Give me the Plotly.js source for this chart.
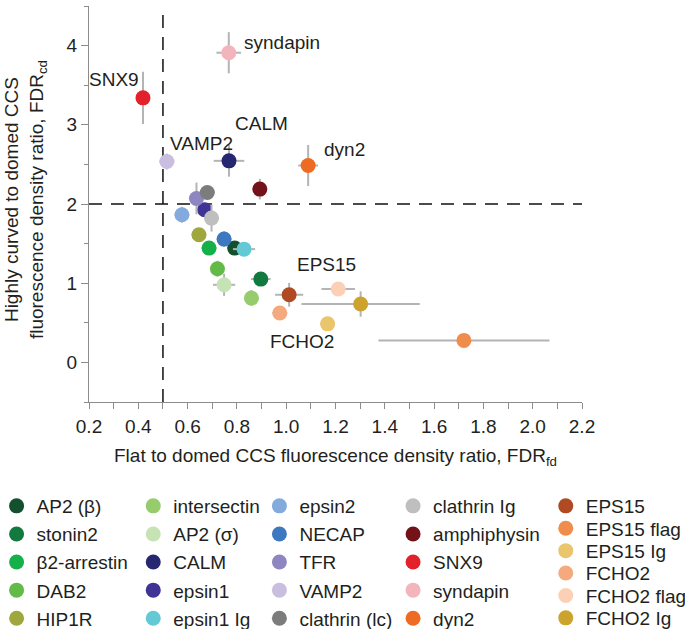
<!DOCTYPE html>
<html>
<head>
<meta charset="utf-8">
<script src="https://cdn.plot.ly/plotly-3.0.1.min.js"></script>
<style>
  html, body { margin: 0; padding: 0; background: #ffffff; }
  #chart { width: 685px; height: 629px; }
</style>
</head>
<body>
<div id="chart"></div>
<script>
// ---------------- data ----------------
const names = [
  "AP2 (β)", "stonin2", "β2-arrestin", "DAB2", "HIP1R",
  "intersectin", "AP2 (σ)", "CALM", "epsin1", "epsin1 Ig",
  "epsin2", "NECAP", "TFR", "VAMP2", "clathrin (lc)",
  "clathrin Ig", "amphiphysin", "SNX9", "syndapin", "dyn2",
  "EPS15", "EPS15 flag", "EPS15 Ig", "FCHO2", "FCHO2 flag", "FCHO2 Ig"
];
// FDR_fd (x) and FDR_cd (y)
const fdrFd = [
  0.791, 0.897, 0.687, 0.721, 0.646,
  0.859, 0.748, 0.768, 0.669, 0.829,
  0.577, 0.748, 0.636, 0.516, 0.680,
  0.697, 0.893, 0.419, 0.767, 1.089,
  1.012, 1.721, 1.168, 0.974, 1.211, 1.302
];
const fdrCd = [
  1.443, 1.052, 1.443, 1.182, 1.612,
  0.812, 0.980, 2.545, 1.927, 1.430,
  1.864, 1.557, 2.070, 2.536, 2.145,
  1.822, 2.188, 3.340, 3.910, 2.486,
  0.854, 0.278, 0.487, 0.623, 0.926, 0.737
];
const errFd = [
  0.030, 0.040, 0.030, 0.030, 0.030,
  0.030, 0.045, 0.062, 0.030, 0.045,
  0.030, 0.030, 0.030, 0.030, 0.030,
  0.030, 0.030, 0.020, 0.050, 0.040,
  0.057, 0.347, 0.030, 0.030, 0.068, 0.240
];
const errCd = [
  0.05, 0.07, 0.05, 0.10, 0.08,
  0.10, 0.14, 0.20, 0.08, 0.05,
  0.10, 0.10, 0.20, 0.10, 0.06,
  0.17, 0.13, 0.33, 0.26, 0.26,
  0.15, 0.06, 0.08, 0.08, 0.08, 0.16
];
const xTickVals = [0.2, 0.4, 0.6, 0.8, 1.0, 1.2, 1.4, 1.6, 1.8, 2.0, 2.2];
const xTickText = ["0.2", "0.4", "0.6", "0.8", "1.0", "1.2", "1.4", "1.6", "1.8", "2.0", "2.2"];
const yTickVals = [0, 1, 2, 3, 4];
const thresholdFd = 0.5;
const thresholdCd = 2;
const labelled = ["syndapin", "SNX9", "VAMP2", "CALM", "dyn2", "EPS15", "FCHO2"];
const xTitle = "Flat to domed CCS fluorescence density ratio, FDR<sub>fd</sub>";
const yTitle = "Highly curved to domed CCS<br>fluorescence density ratio, FDR<sub>cd</sub>";

// ---------------- styles ----------------
const colors = {
  "AP2 (β)": "#12502e", "stonin2": "#127a3e", "β2-arrestin": "#16b04b", "DAB2": "#63bb47", "HIP1R": "#9ea83d",
  "intersectin": "#96cc6c", "AP2 (σ)": "#c5e3b4", "CALM": "#262671", "epsin1": "#3f3496", "epsin1 Ig": "#62c9d5",
  "epsin2": "#82aadd", "NECAP": "#3e78c0", "TFR": "#8d86c1", "VAMP2": "#c9bde0", "clathrin (lc)": "#7c7c7c",
  "clathrin Ig": "#bfbfbf", "amphiphysin": "#74121a", "SNX9": "#e3212a", "syndapin": "#f4b4bb", "dyn2": "#ed6b23",
  "EPS15": "#b04a22", "EPS15 flag": "#f08d4d", "EPS15 Ig": "#eac56c", "FCHO2": "#f4a97e", "FCHO2 flag": "#fbd0b5", "FCHO2 Ig": "#cba32d"
};
// legend column for each entry (column 5 is split in two interleaved legends)
const legendOf = [
  "legend", "legend", "legend", "legend", "legend",
  "legend2", "legend2", "legend2", "legend2", "legend2",
  "legend3", "legend3", "legend3", "legend3", "legend3",
  "legend4", "legend4", "legend4", "legend4", "legend4",
  "legend5", "legend6", "legend5", "legend6", "legend5", "legend6"
];
// label offsets in px relative to the point
const labelStyle = {
  "syndapin": {xanchor: "left",  xshift: 13,  yshift: 10},
  "SNX9":     {xanchor: "right", xshift: -2,  yshift: 18},
  "VAMP2":    {xanchor: "left",  xshift: 1,   yshift: 18},
  "CALM":     {xanchor: "left",  xshift: 4,   yshift: 37},
  "dyn2":     {xanchor: "left",  xshift: 14,  yshift: 16},
  "EPS15":    {xanchor: "left",  xshift: 6,   yshift: 30},
  "FCHO2":    {xanchor: "left",  xshift: -12, yshift: -28}
};

const FONT = "Liberation Sans, Arial, Helvetica, sans-serif";
const FS = 19;
const TXT = "#231f20";
const AXC = "#8c8c8c";
const ERRC = "#b4b4b4";
const W = 685, H = 629;
const M = {l: 89.3, r: 103.3, t: 6, b: 227};
const plotW = W - M.l - M.r, plotH = H - M.t - M.b;

const traces = names.map((n, i) => ({
  type: "scatter",
  mode: "markers",
  name: n,
  x: [fdrFd[i]],
  y: [fdrCd[i]],
  error_x: {type: "data", array: [errFd[i]], color: ERRC, thickness: 2, width: 0},
  error_y: {type: "data", array: [errCd[i]], color: ERRC, thickness: 2, width: 0},
  marker: {size: 15, color: colors[n], line: {width: 0}},
  legend: legendOf[i],
  legendgroup: n,
  showlegend: true,
  hoverinfo: "name+x+y"
}));

const annotations = labelled.map(n => {
  const i = names.indexOf(n);
  const s = labelStyle[n];
  return {
    x: fdrFd[i], y: fdrCd[i], xref: "x", yref: "y",
    text: n, showarrow: false,
    xanchor: s.xanchor, yanchor: "middle",
    xshift: s.xshift, yshift: s.yshift,
    font: {family: FONT, size: FS, color: TXT}
  };
});
// y-axis title (drawn as a rotated annotation for exact placement)
annotations.push({
  xref: "paper", yref: "paper",
  x: (26 - M.l) / plotW, y: (H - M.b - 199.5) / plotH,
  xanchor: "center", yanchor: "middle",
  text: yTitle, textangle: -90, showarrow: false,
  font: {family: FONT, size: FS, color: TXT}
});

function legendBox(xpx, ypx, gap) {
  return {
    xref: "paper", yref: "container",
    x: (xpx - M.l) / plotW, y: 1 - ypx / H,
    xanchor: "left", yanchor: "top",
    orientation: "v",
    bgcolor: "rgba(0,0,0,0)", borderwidth: 0,
    font: {family: FONT, size: FS, color: TXT},
    traceorder: "grouped", tracegroupgap: gap,
    itemwidth: 30, itemsizing: "trace",
    itemclick: false, itemdoubleclick: false
  };
}

const layout = {
  width: W, height: H,
  margin: {l: M.l, r: M.r, t: M.t, b: M.b, autoexpand: false},
  paper_bgcolor: "#ffffff", plot_bgcolor: "#ffffff",
  font: {family: FONT, size: FS, color: TXT},
  showlegend: true,
  xaxis: {
    range: [0.2, 2.2], automargin: false,
    showgrid: false, zeroline: false,
    showline: true, linecolor: AXC, linewidth: 1,
    tickmode: "array", tickvals: xTickVals, ticktext: xTickText,
    ticks: "outside", ticklen: 6, tickcolor: AXC, tickwidth: 1,
    ticklabelstandoff: 1,
    minor: {dtick: 0.1, tick0: 0.2, ticks: "outside", ticklen: 6, tickcolor: AXC, tickwidth: 1, showgrid: false},
    tickfont: {family: FONT, size: FS, color: TXT},
    title: {text: xTitle, font: {family: FONT, size: FS, color: TXT}, standoff: 12}
  },
  yaxis: {
    range: [-0.5, 4.5], automargin: false,
    showgrid: false, zeroline: false,
    showline: true, linecolor: AXC, linewidth: 1,
    tickmode: "array", tickvals: yTickVals,
    ticks: "outside", ticklen: 7, tickcolor: AXC, tickwidth: 1,
    minor: {dtick: 0.5, tick0: 0, ticks: "outside", ticklen: 4, tickcolor: AXC, tickwidth: 1, showgrid: false},
    tickfont: {family: FONT, size: FS, color: TXT}
  },
  shapes: [
    {type: "line", xref: "x", yref: "y", x0: thresholdFd, x1: thresholdFd, y0: -0.5, y1: 4.5,
     line: {color: "#111111", width: 1.5, dash: "13px,9px"}, layer: "below"},
    {type: "line", xref: "x", yref: "y", x0: 0.2, x1: 2.2, y0: thresholdCd, y1: thresholdCd,
     line: {color: "#111111", width: 1.5, dash: "13px,9px"}, layer: "below"}
  ],
  annotations: annotations,
  legend:  legendBox(-3, 487, 0.4),
  legend2: legendBox(133.5, 487, 0.4),
  legend3: legendBox(259.5, 487, 0.4),
  legend4: legendBox(393, 487, 0.4),
  legend5: legendBox(545.5, 487, 17.1),
  legend6: legendBox(545.5, 509.4, 17.1)
};

Plotly.newPlot("chart", traces, layout, {displayModeBar: false, staticPlot: true});
</script>
</body>
</html>
